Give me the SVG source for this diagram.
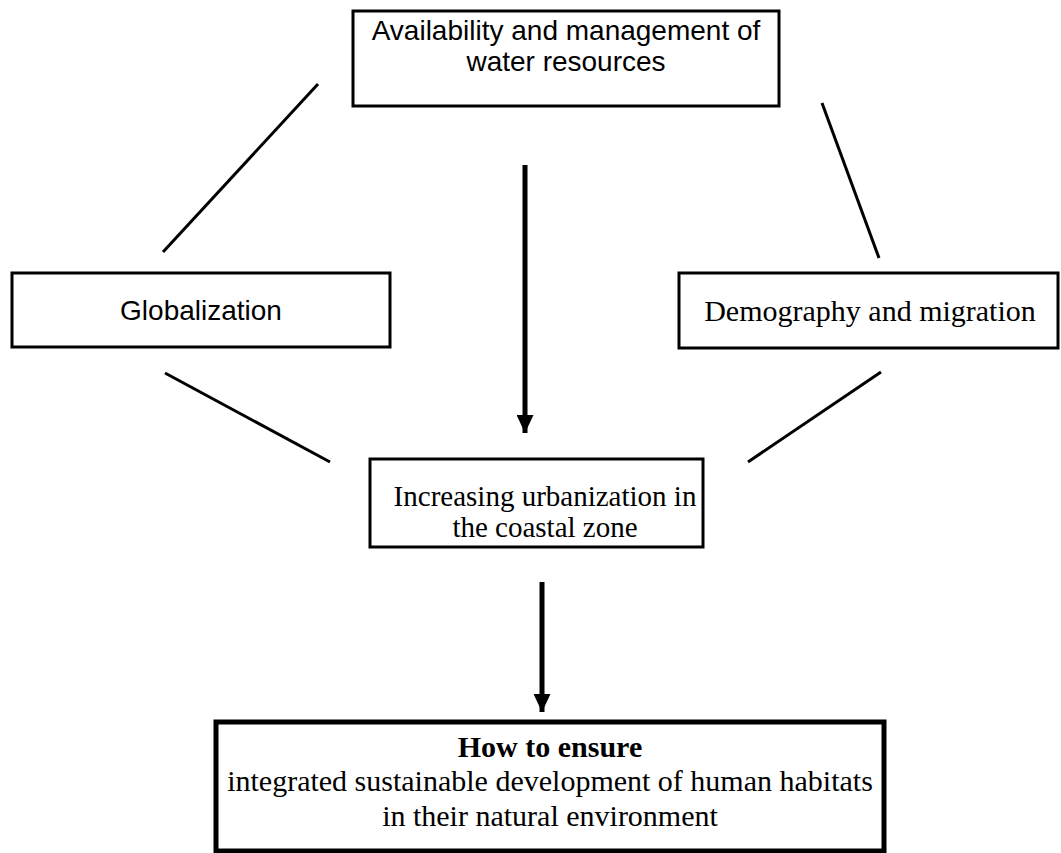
<svg xmlns="http://www.w3.org/2000/svg" width="1061" height="853" viewBox="0 0 1061 853">
<style>
.box{fill:#fff;stroke:#000;stroke-width:3}
.sans{font-family:"Liberation Sans",Arial,sans-serif;font-size:28px;fill:#000;text-anchor:middle}
.serif{font-family:"Liberation Serif","Times New Roman",serif;font-size:29px;fill:#000;text-anchor:middle}
.ln{stroke:#000;stroke-width:3;fill:none}
.arr{stroke:#000;stroke-width:5;fill:none}
</style>
<defs>
<marker id="ah" markerWidth="18" markerHeight="17" refX="18" refY="8.5" orient="auto" markerUnits="userSpaceOnUse" viewBox="0 0 18 17">
<path d="M0,0 L18,8.5 L0,17 Z" fill="#000"/>
</marker>
</defs>
<rect width="1061" height="853" fill="#fff"/>
<g id="connectors">
<line class="ln" x1="318" y1="84" x2="163" y2="252"/>
<line class="ln" x1="822" y1="103" x2="879" y2="258"/>
<line class="ln" x1="165" y1="373" x2="330" y2="462"/>
<line class="ln" x1="881" y1="372" x2="748" y2="462"/>
<line class="arr" x1="525" y1="165" x2="525" y2="433" marker-end="url(#ah)"/>
<line class="arr" x1="542" y1="582" x2="542" y2="712" marker-end="url(#ah)"/>
</g>
<g id="water">
<rect class="box" x="353" y="11" width="426" height="95"/>
<text class="sans" x="566" y="40">Availability and management of</text>
<text class="sans" x="566" y="71">water resources</text>
</g>
<g id="globalization">
<rect class="box" x="12" y="273" width="378" height="74"/>
<text class="sans" x="201" y="320">Globalization</text>
</g>
<g id="demography">
<rect class="box" x="679" y="273" width="379" height="75"/>
<text class="serif" x="870" y="321" style="font-size:30px">Demography and migration</text>
</g>
<g id="urbanization">
<rect class="box" x="370" y="459" width="333" height="88"/>
<text class="serif" x="545" y="506">Increasing urbanization in</text>
<text class="serif" x="545" y="537">the coastal zone</text>
</g>
<g id="ensure">
<rect x="216" y="722" width="668" height="129" fill="#fff" stroke="#000" stroke-width="5"/>
<text class="serif" x="550" y="757" style="font-weight:bold;font-size:30px">How to ensure</text>
<text class="serif" x="550" y="791" style="font-size:30px">integrated sustainable development of human habitats</text>
<text class="serif" x="550" y="826" style="font-size:30px">in their natural environment</text>
</g>
</svg>
